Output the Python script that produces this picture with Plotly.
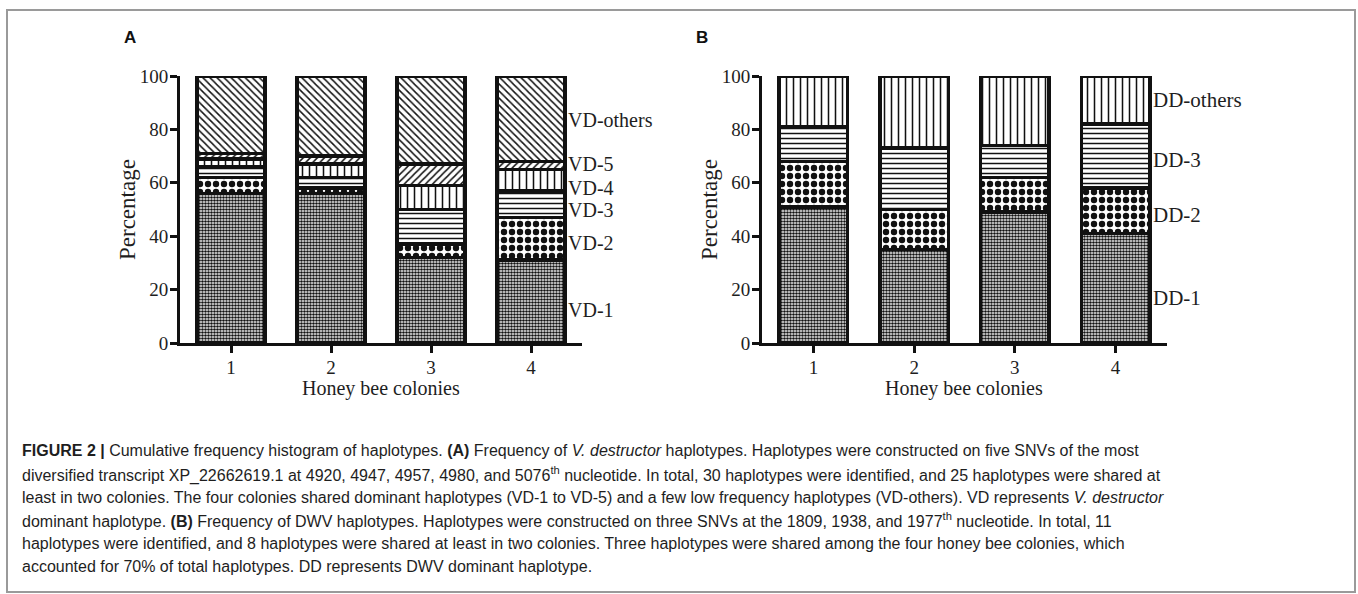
import plotly.graph_objects as go

# ---------------- data ----------------
colonies = ["1", "2", "3", "4"]

vd_names = ["VD-1", "VD-2", "VD-3", "VD-4", "VD-5", "VD-others"]
vd_1 = [56, 56, 32, 31]
vd_2 = [6, 2, 5, 16]
vd_3 = [4, 4, 13, 10]
vd_4 = [3, 5, 9, 8]
vd_5 = [2, 3, 8, 3]
vd_others = [29, 30, 33, 32]

dd_names = ["DD-1", "DD-2", "DD-3", "DD-others"]
dd_1 = [51, 35, 49, 41]
dd_2 = [17, 15, 13, 17]
dd_3 = [13, 23, 12, 24]
dd_others = [19, 27, 26, 18]

y_ticks = [0, 20, 40, 60, 80, 100]

# label positions (value on y axis) for the right-hand labels
vd_label_y = [12.5, 37.5, 49.8, 58.2, 67, 83.5]
dd_label_y = [17, 48, 68.5, 91]

# ---------------- styling ----------------
W, H = 1358, 594
SERIF = "Liberation Serif, Times New Roman, serif"
SANS_N = "Liberation Sans Narrow, Arial Narrow, Liberation Sans, Arial, sans-serif"
SANS = "Liberation Sans, Arial, sans-serif"
TXT = "#1e1e1e"

patterns = {
    "stipple": dict(shape=".", size=3, solidity=0.6),
    "checker": dict(shape=".", size=8, solidity=0.5),
    "hlines": dict(shape="-", size=5, solidity=0.3),
    "vlines": dict(shape="|", size=7, solidity=0.22),
    "fwd": dict(shape="/", size=5, solidity=0.3),
    "back": dict(shape="\\", size=5, solidity=0.3),
}

vd_series = [vd_1, vd_2, vd_3, vd_4, vd_5, vd_others]
vd_pat = ["stipple", "checker", "hlines", "vlines", "fwd", "back"]
dd_series = [dd_1, dd_2, dd_3, dd_others]
dd_pat = ["stipple", "checker", "hlines", "vlines"]

fig = go.Figure()


def add_bar(name, vals, pat, xa, ya):
    p = patterns[pat]
    fig.add_trace(go.Bar(
        x=colonies, y=vals, name=name, xaxis=xa, yaxis=ya, width=0.68,
        marker=dict(color="white",
                    line=dict(color="#111111", width=3.5),
                    pattern=dict(shape=p["shape"], size=p["size"],
                                 solidity=p["solidity"], fgcolor="#111111",
                                 bgcolor="white", fillmode="replace")),
        showlegend=False, hoverinfo="name+y",
    ))


for n, v, p in zip(vd_names, vd_series, vd_pat):
    add_bar(n, v, p, "x", "y")
for n, v, p in zip(dd_names, dd_series, dd_pat):
    add_bar(n, v, p, "x2", "y2")

y_bot = (H - 343) / H
y_top = (H - 76) / H

axis_common = dict(showgrid=False, zeroline=False, showline=True,
                   linecolor="#111111", linewidth=3, ticks="outside",
                   ticklen=7, tickwidth=3, tickcolor="#111111",
                   ticklabelstandoff=-2,
                   tickfont=dict(family=SERIF, size=19, color=TXT))

xa = dict(axis_common, type="category", range=[-0.51, 3.51])
ya = dict(axis_common, range=[0, 100], tickvals=y_ticks)

fig.update_layout(
    width=W, height=H,
    margin=dict(l=0, r=0, t=0, b=0, autoexpand=False),
    paper_bgcolor="white", plot_bgcolor="white",
    barmode="stack", bargap=0.32,
    xaxis=dict(xa, domain=[180 / W, 582 / W], anchor="y"),
    yaxis=dict(ya, domain=[y_bot, y_top], anchor="x"),
    xaxis2=dict(xa, domain=[762 / W, 1167 / W], anchor="y2"),
    yaxis2=dict(ya, domain=[y_bot, y_top], anchor="x2"),
)

# axis titles (placed as text so they sit exactly where the reference has them)
for cx in [381, 964]:
    fig.add_annotation(x=cx / W, y=(H - 388) / H, xref="paper", yref="paper",
                       text="Honey bee colonies", showarrow=False,
                       xanchor="center", yanchor="middle",
                       font=dict(family=SERIF, size=20, color=TXT))
for cx in [128, 710]:
    fig.add_annotation(x=cx / W, y=(H - 210) / H, xref="paper", yref="paper",
                       text="Percentage", showarrow=False, textangle=-90,
                       xanchor="center", yanchor="middle",
                       font=dict(family=SERIF, size=23, color=TXT))

# right-hand series labels
for n, yv in zip(vd_names, vd_label_y):
    fig.add_annotation(x=566 / W, xref="paper", y=yv, yref="y", text=n,
                       showarrow=False, xanchor="left", yanchor="middle",
                       font=dict(family=SERIF, size=20, color=TXT))
for n, yv in zip(dd_names, dd_label_y):
    fig.add_annotation(x=1151 / W, xref="paper", y=yv, yref="y2", text=n,
                       showarrow=False, xanchor="left", yanchor="middle",
                       font=dict(family=SERIF, size=21, color=TXT))

# panel letters
for letter, px in [("A", 122), ("B", 694)]:
    fig.add_annotation(x=px / W, y=(H - 37) / H, xref="paper", yref="paper",
                       text="<b>%s</b>" % letter, showarrow=False,
                       xanchor="left", yanchor="middle",
                       font=dict(family=SANS, size=17, color="#111111"))

# frame
fig.add_shape(type="rect", xref="paper", yref="paper",
              x0=7 / W, x1=1355 / W, y0=(H - 592) / H, y1=(H - 10) / H,
              line=dict(color="#9a9a9a", width=2), fillcolor="rgba(0,0,0,0)")

caption_lines = [
    "<b>FIGURE 2 |</b> Cumulative frequency histogram of haplotypes. <b>(A)</b> Frequency of <i>V. destructor</i> haplotypes. Haplotypes were constructed on five SNVs of the most",
    "diversified transcript XP_22662619.1 at 4920, 4947, 4957, 4980, and 5076<sup>th</sup> nucleotide. In total, 30 haplotypes were identified, and 25 haplotypes were shared at",
    "least in two colonies. The four colonies shared dominant haplotypes (VD-1 to VD-5) and a few low frequency haplotypes (VD-others). VD represents <i>V. destructor</i>",
    "dominant haplotype. <b>(B)</b> Frequency of DWV haplotypes. Haplotypes were constructed on three SNVs at the 1809, 1938, and 1977<sup>th</sup> nucleotide. In total, 11",
    "haplotypes were identified, and 8 haplotypes were shared at least in two colonies. Three haplotypes were shared among the four honey bee colonies, which",
    "accounted for 70% of total haplotypes. DD represents DWV dominant haplotype.",
]
line_y = [450, 474, 497, 520, 543, 566]
for t, ly in zip(caption_lines, line_y):
    fig.add_annotation(x=20 / W, y=(H - ly) / H, xref="paper", yref="paper",
                       text=t, showarrow=False, xanchor="left", yanchor="middle",
                       align="left",
                       font=dict(family=SANS_N, size=16, color=TXT))

fig.write_html(
    "out.html",
    config={"displayModeBar": False},
    post_script="document.body.style.margin='0';document.body.style.overflow='hidden';",
)
